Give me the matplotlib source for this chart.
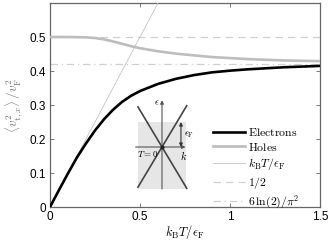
import numpy as np
import matplotlib
matplotlib.use('Agg')
import matplotlib.pyplot as plt

plt.rcParams['mathtext.fontset'] = 'cm'
plt.rcParams['font.family'] = ['Liberation Sans', 'DejaVu Sans']

## values ##
x_el = [0, 0.05, 0.1, 0.15, 0.2, 0.25, 0.3, 0.35, 0.4, 0.45, 0.5, 0.6, 0.7,
        0.8, 0.9, 1.0, 1.1, 1.2, 1.3, 1.4, 1.5]
y_el = [0, 0.05, 0.099, 0.146, 0.187, 0.225, 0.258, 0.286, 0.309, 0.327,
        0.341, 0.362, 0.377, 0.388, 0.396, 0.401, 0.405, 0.408, 0.411, 0.413, 0.415]

x_ho = [0, 0.1, 0.2, 0.25, 0.3, 0.35, 0.4, 0.45, 0.5, 0.6, 0.7, 0.8, 0.9,
        1.0, 1.1, 1.2, 1.3, 1.4, 1.5]
y_ho = [0.5, 0.5, 0.499, 0.497, 0.493, 0.487, 0.480, 0.473, 0.467, 0.458,
        0.451, 0.446, 0.441, 0.438, 0.435, 0.433, 0.431, 0.430, 0.429]

x_lin = [0, 0.6]
half = 0.5
lim_val = 6 * np.log(2) / np.pi**2

xticks = [0, 0.5, 1, 1.5]
xticklabels = ['0', '0.5', '1', '1.5']
yticks = [0, 0.1, 0.2, 0.3, 0.4, 0.5]
yticklabels = ['0', '0.1', '0.2', '0.3', '0.4', '0.5']

fig = plt.figure(figsize=(3.35, 2.42), dpi=100)
ax = fig.add_axes([50/335, 1 - 207/242, 270/335, 204/242])

ax.plot(x_el, y_el, color='black', lw=1.9, label=r'$\mathrm{Electrons}$', zorder=5)
ax.plot(x_ho, y_ho, color='#bdbdbd', lw=1.9, label=r'$\mathrm{Holes}$', zorder=4)
ax.plot(x_lin, x_lin, color='#c4c4c4', lw=0.6, label=r'$k_\mathrm{B}T/\epsilon_\mathrm{F}$', zorder=3)
ax.plot([0, 1.5], [half, half], color='#d0d0d0', lw=0.9, dashes=(6, 4),
        label=r'$1/2$', zorder=2)
ax.plot([0, 1.5], [lim_val, lim_val], color='#d0d0d0', lw=0.9, dashes=(6, 3, 1, 3),
        label=r'$6\,\ln(2)/\pi^2$', zorder=2)

ax.set_xlim(0, 1.5)
ax.set_ylim(0, 0.6)
ax.set_xticks(xticks)
ax.set_xticklabels(xticklabels)
ax.set_yticks(yticks)
ax.set_yticklabels(yticklabels)
ax.tick_params(direction='in', length=3, width=0.6, color='#666666',
               top=True, right=True, labelsize=8.5, pad=3)
for s in ax.spines.values():
    s.set_color('#666666')
    s.set_linewidth(0.9)

ax.set_xlabel(r'$k_\mathrm{B}T/\epsilon_\mathrm{F}$', fontsize=9, labelpad=0)
ax.set_ylabel(r'$\langle v_{\mathrm{t},x}^2\rangle\,/v_\mathrm{F}^2$', fontsize=9.5,
              color='#777777', labelpad=3)

L = ax.legend(loc='upper left', bbox_to_anchor=((213-50)/270, (207-127)/204),
              frameon=False, fontsize=8.5, borderpad=0, handlelength=2.7,
              handletextpad=0.3, labelspacing=0.22, borderaxespad=0)

## inset: Dirac cone at T=0 ##
ins = fig.add_axes([133.2/335, 1 - 192.6/242, 57.6/335, 96/242])
ins.set_xlim(-1.2, 1.2)
ins.set_ylim(-1.9, 2.1)
ins.axis('off')
ins.fill_between([-1, 1], -1.75, 1.04, color='#e6e6e6', lw=0, zorder=0)
k = np.array([-1.0, 1.03])
ins.plot(k, 1.67*k, color='#444444', lw=1.2, zorder=2)
ins.plot(k, -1.67*k, color='#444444', lw=1.2, zorder=2)
ins.annotate('', xy=(0, 1.95), xytext=(0, -1.75),
             arrowprops=dict(arrowstyle='-|>', color='#555555', lw=0.8,
                             mutation_scale=5, shrinkA=0, shrinkB=0))
ins.annotate('', xy=(0.98, 0), xytext=(-1.1, 0),
             arrowprops=dict(arrowstyle='-|>', color='#555555', lw=0.8,
                             mutation_scale=5, shrinkA=0, shrinkB=0))
ins.annotate('', xy=(0.79, 1.04), xytext=(0.79, 0),
             arrowprops=dict(arrowstyle='<|-|>', color='#333333', lw=0.8,
                             mutation_scale=5, shrinkA=0, shrinkB=0))
ins.plot([0], [0], 'o', color='#222222', ms=2, zorder=3)
ins.text(-0.1, 1.85, r'$\epsilon$', fontsize=7, ha='right', va='center')
ins.text(0.92, 0.5, r'$\epsilon_\mathrm{F}$', fontsize=7, ha='left', va='center')
ins.text(0.92, -0.1, r'$k$', fontsize=7.5, ha='center', va='top')
ins.text(-0.15, -0.1, r'$T=0$', fontsize=6.5, ha='right', va='top')

fig.savefig('out.png', dpi=100)
